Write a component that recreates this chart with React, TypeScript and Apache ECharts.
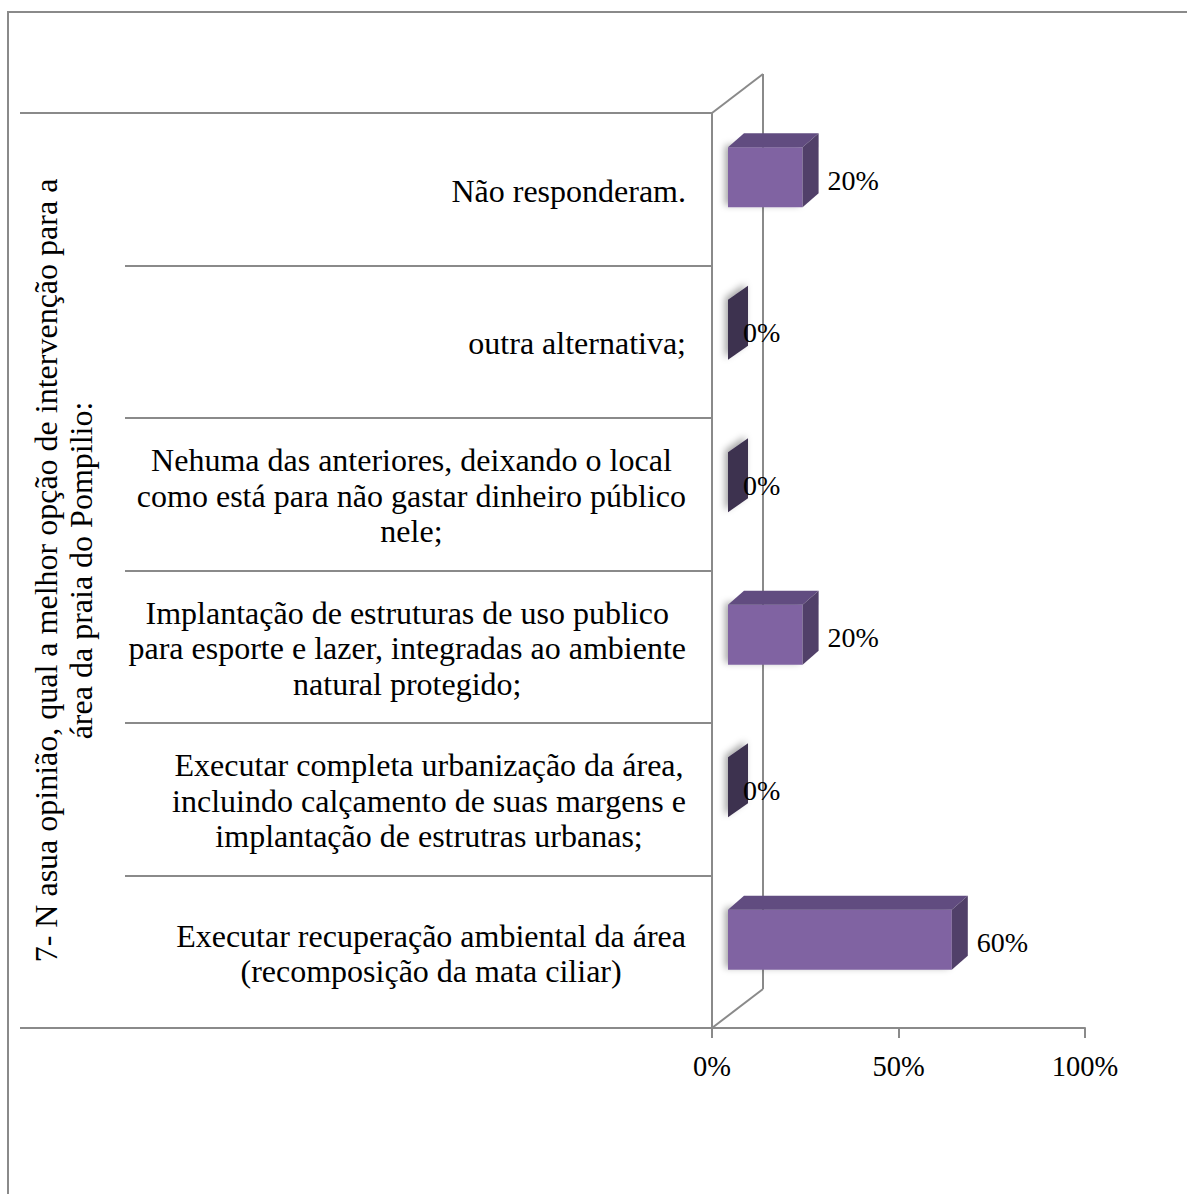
import React, { useEffect, useRef } from "react";
import * as echarts from "echarts";

// Answer options, listed bottom to top as the category axis stacks them
const categories = [
  "Executar recuperação ambiental da área\n(recomposição da mata ciliar)",
  "Executar completa urbanização da área,\nincluindo calçamento de suas margens e\nimplantação de estrutras urbanas;",
  "Implantação de estruturas de uso publico\npara esporte e lazer, integradas ao ambiente\nnatural protegido;",
  "Nehuma das anteriores, deixando o local\ncomo está para não gastar dinheiro público\nnele;",
  "outra alternativa;",
  "Não responderam.",
];

// Share of respondents for each option (fraction of 1)
const shares = [0.6, 0, 0.2, 0, 0, 0.2];

// Value axis range and step
const axisMin = 0;
const axisMax = 1;
const axisStep = 0.5;

const axisTitle =
  "7- N asua opinião, qual a melhor opção de intervenção para a\nárea da praia do Pompilio:";

const SERIF = "Liberation Serif";
const LINE = "#8a8a8a";
const FRONT = "#8064a2";
const TOP = "#614c80";
const SIDE = "#514069";
const CAP = "#3c3050";

// 3D back wall offset
const WALL_DX = 51;
const WALL_DY = -39;
// bars sit a little way into the depth of the plot
const BAR_SHIFT_X = 16;
const BAR_SHIFT_Y = -12;
const BAR_DX = 16;
const BAR_DY = -14;
const BAR_H = 60;
// how far the floor lines run to the left of the plot
const FLOOR_EXTEND = 692;

const pct = (v: number) => `${Math.round(v * 100)}%`;

export default function App() {
  const ref = useRef<HTMLDivElement>(null);

  useEffect(() => {
    document.body.style.margin = "0";
    if (!ref.current) return;
    const chart = echarts.init(ref.current, null, { renderer: "svg" });

    const option: any = {
      animation: false,
      backgroundColor: "#ffffff",
      grid: { left: 712, right: 102, top: 113, bottom: 166, containLabel: false },
      graphic: [
        {
          type: "rect",
          shape: { x: 8, y: 12, width: 1400, height: 1400 },
          style: { fill: "none", stroke: LINE, lineWidth: 2 },
          silent: true,
        },
      ],
      xAxis: {
        type: "value",
        min: axisMin,
        max: axisMax,
        interval: axisStep,
        axisLine: { show: true, lineStyle: { color: LINE, width: 2 } },
        axisTick: { show: true, length: 10, lineStyle: { color: LINE, width: 2 } },
        splitLine: { show: false },
        axisLabel: {
          formatter: (v: number) => pct(v),
          color: "#000",
          fontFamily: SERIF,
          fontSize: 28.5,
          margin: 24,
        },
      },
      yAxis: {
        type: "category",
        data: categories,
        axisLine: { show: true, lineStyle: { color: LINE, width: 2 } },
        axisTick: {
          show: true,
          interval: 0,
          length: 587,
          lineStyle: { color: LINE, width: 2 },
        },
        axisLabel: {
          interval: 0,
          margin: 26,
          formatter: (v: string) =>
            v
              .split("\n")
              .map((s) => `{c|${s}}`)
              .join("\n"),
          rich: {
            c: {
              align: "center",
              fontFamily: SERIF,
              fontSize: 32,
              lineHeight: 35.5,
              color: "#000",
              padding: [3, 0, 0, 0],
            },
          },
        },
        name: axisTitle,
        nameLocation: "middle",
        nameRotate: 90,
        nameGap: 614,
        nameTextStyle: {
          fontFamily: SERIF,
          fontSize: 32,
          lineHeight: 35,
          color: "#000",
          align: "center",
        },
      },
      series: [
        {
          // back wall and floor extensions
          type: "custom",
          clip: false,
          silent: true,
          data: [[0, 0]],
          encode: { x: 0, y: 1 },
          renderItem: (params: any) => {
            const cs = params.coordSys;
            const x0 = cs.x;
            const top = cs.y;
            const bot = cs.y + cs.height;
            const ls = { stroke: LINE, lineWidth: 2 };
            return {
              type: "group",
              children: [
                { type: "line", shape: { x1: x0, y1: top, x2: x0 + WALL_DX, y2: top + WALL_DY }, style: ls },
                { type: "line", shape: { x1: x0 + WALL_DX, y1: top + WALL_DY, x2: x0 + WALL_DX, y2: bot + WALL_DY }, style: ls },
                { type: "line", shape: { x1: x0, y1: bot, x2: x0 + WALL_DX, y2: bot + WALL_DY }, style: ls },
                { type: "line", shape: { x1: x0 - FLOOR_EXTEND, y1: top, x2: x0, y2: top }, style: ls },
                { type: "line", shape: { x1: x0 - FLOOR_EXTEND, y1: bot, x2: x0, y2: bot }, style: ls },
              ],
            };
          },
          z: 1,
        },
        {
          type: "custom",
          clip: false,
          data: shares.map((v, i) => [v, i]),
          encode: { x: 0, y: 1 },
          renderItem: (params: any, api: any) => {
            const v = api.value(0);
            const cat = api.value(1);
            const [x0, cy] = api.coord([0, cat]);
            const [x1] = api.coord([v, cat]);
            const l = x0 + BAR_SHIFT_X;
            const r = x1 + BAR_SHIFT_X;
            const t = cy + BAR_SHIFT_Y - BAR_H / 2;
            const b = t + BAR_H;
            const shadow = {
              shadowBlur: 7,
              shadowColor: "rgba(0,0,0,0.35)",
              shadowOffsetX: -3,
              shadowOffsetY: -2,
            };
            const children: any[] = [];
            if (v > 0) {
              children.push({
                type: "rect",
                shape: { x: l, y: t, width: r - l, height: b - t },
                style: { fill: FRONT, ...shadow },
              });
              children.push({
                type: "polygon",
                shape: { points: [[l, t], [r, t], [r + BAR_DX, t + BAR_DY], [l + BAR_DX, t + BAR_DY]] },
                style: { fill: TOP },
              });
              children.push({
                type: "polygon",
                shape: { points: [[r, t], [r + BAR_DX, t + BAR_DY], [r + BAR_DX, b + BAR_DY], [r, b]] },
                style: { fill: SIDE },
              });
            } else {
              children.push({
                type: "polygon",
                shape: { points: [[r, t], [r + BAR_DX + 4, t + BAR_DY], [r + BAR_DX + 4, b + BAR_DY], [r, b]] },
                style: { fill: CAP, ...shadow },
              });
            }
            children.push({
              type: "text",
              x: r + BAR_DX + (v > 0 ? 9 : -1),
              y: cy + BAR_SHIFT_Y + 3,
              style: {
                text: pct(v),
                fontFamily: SERIF,
                fontSize: 28,
                fill: "#000",
                align: "left",
                verticalAlign: "middle",
              },
            });
            return { type: "group", children };
          },
          z: 3,
        },
      ],
    };

    chart.setOption(option);
    return () => chart.dispose();
  }, []);

  return <div ref={ref} style={{ width: 1187, height: 1194 }} />;
}
